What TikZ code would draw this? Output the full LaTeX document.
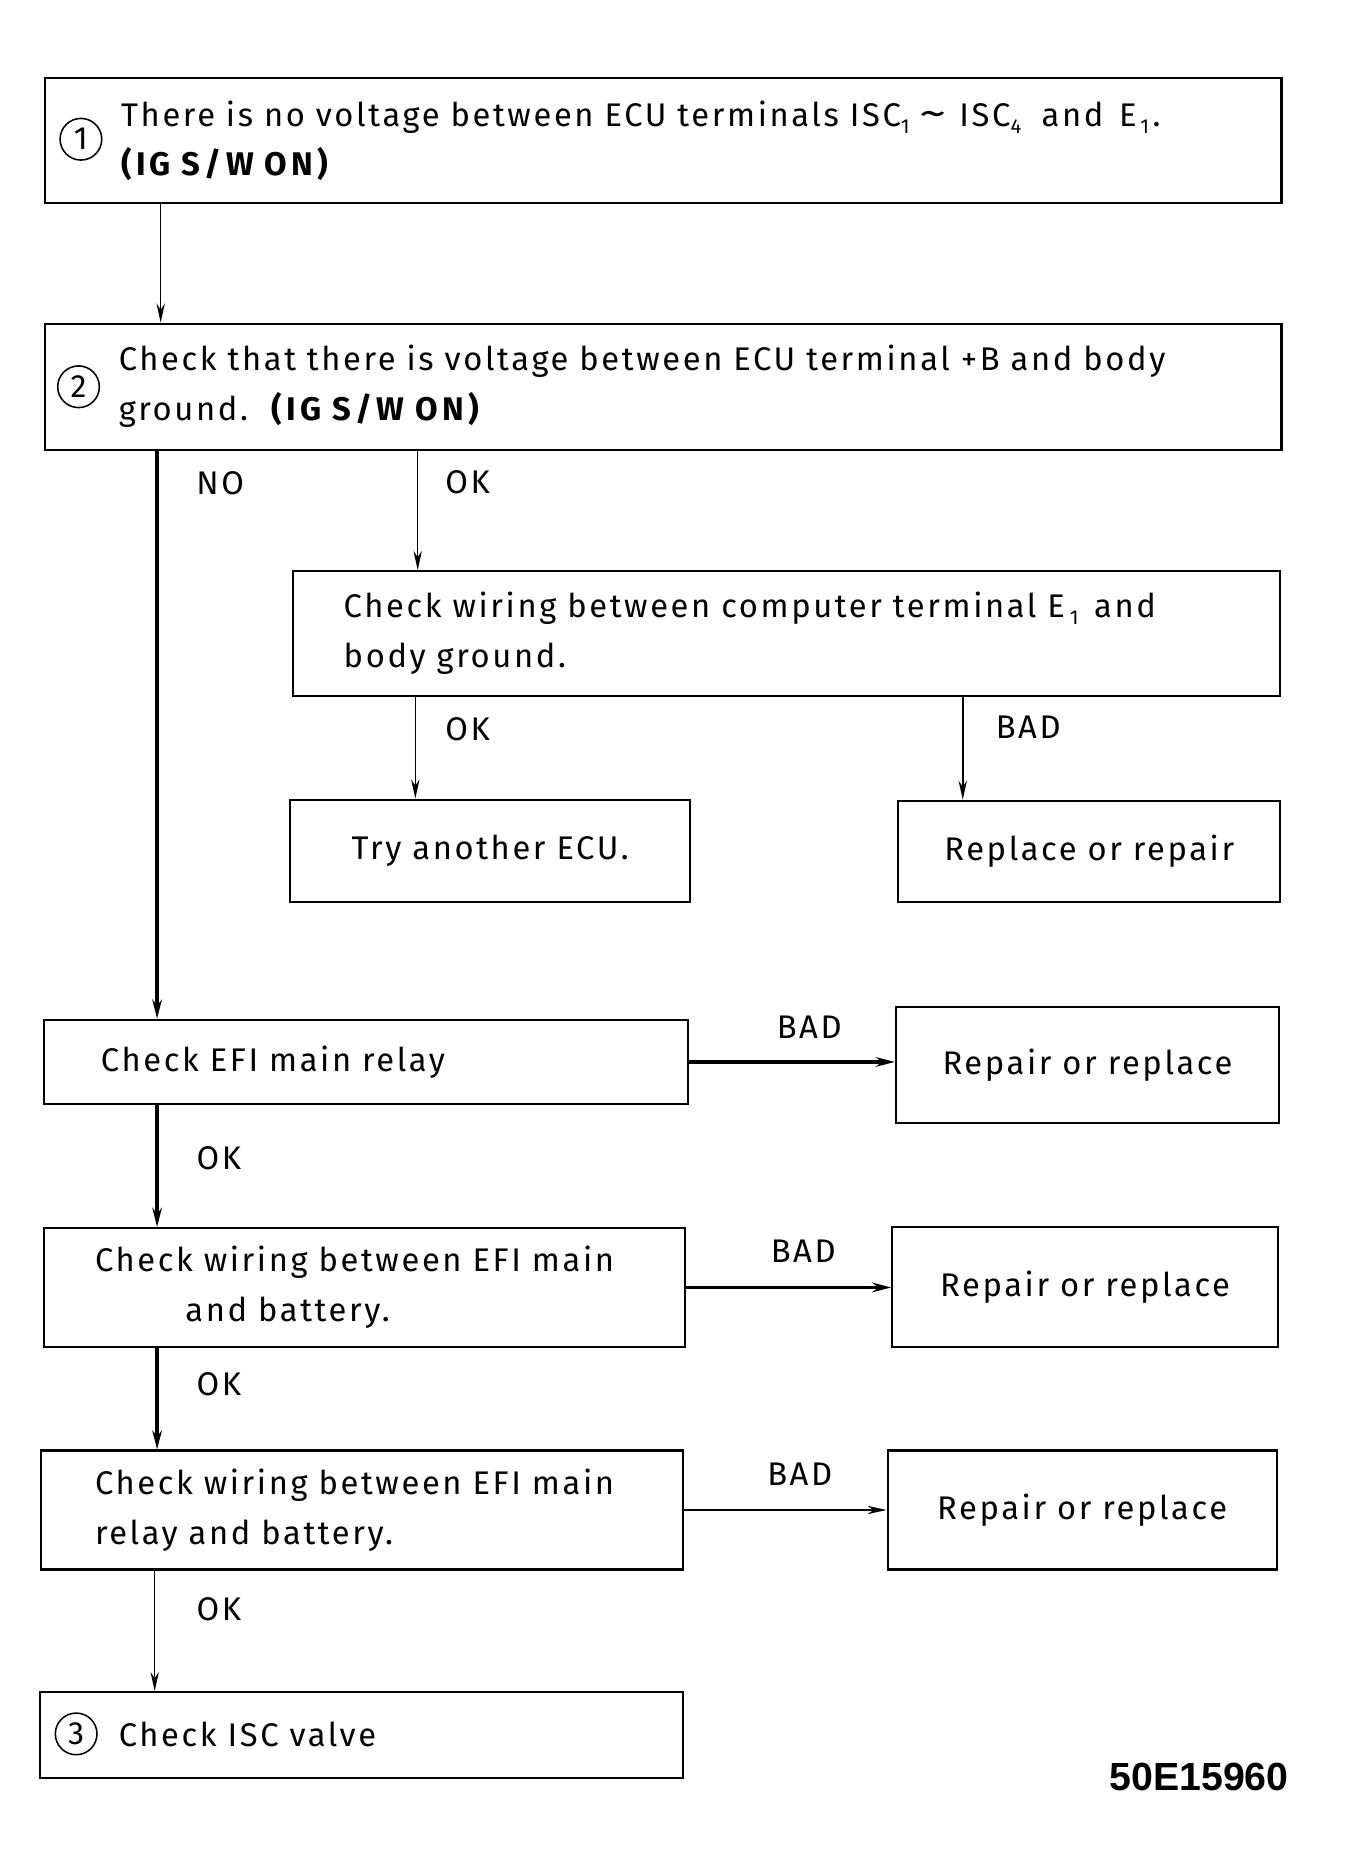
\documentclass[tikz,border=0pt]{standalone}
\usepackage{graphicx}
\usepackage{fontspec}
\setmainfont{Fira Sans}[LetterSpace=8]
\newfontfamily\codefont{Liberation Sans}
\usetikzlibrary{arrows.meta,calc}
\newcommand{\subx}[1]{\raisebox{-6pt}{\fontsize{17}{17}\selectfont #1}}
\newcommand{\wtilde}{\scalebox{1.7}[1.2]{\textasciitilde}}
\newcommand{\igon}{{\bfseries\addfontfeature{LetterSpace=13}(IG S/W ON)}}
\begin{document}
\begin{tikzpicture}[x=1pt,y=-1pt,
  every node/.style={font=\fontsize{27.5}{42}\selectfont},
  box/.style={draw, line width=1.7pt, rectangle, anchor=north west, inner ysep=0pt, align=left},
  cbox/.style={box, align=center},
  num/.style={draw, circle, line width=1.3pt, inner sep=0pt, minimum size=35pt, font=\fontsize{27}{27}\selectfont},
  arrthin/.style={line width=1.3pt, -{Stealth[length=16pt,width=7pt]}},
  arrthick/.style={line width=2.8pt, -{Stealth[length=16pt,width=8pt]}},
  lbl/.style={inner sep=0pt, anchor=center}
]
\useasboundingbox (0,0) rectangle (1129.4,1569.7);

% boxes
\node[box, minimum width=1039pt, minimum height=105pt, inner xsep=64pt, text width=911pt] (b1) at (37,65)
  {\mbox{There is no voltage between ECU terminals ISC\subx{1}\hspace{8pt}\wtilde\hspace{11pt}ISC\subx{4}\hspace{8pt} and \hspace{4pt}E\hspace{3pt}\subx{1}\hspace{3pt}.}\\ \mbox{\igon}};
\node[num] (n1) at (68,117) {1};

\node[box, minimum width=1039pt, minimum height=106pt, inner xsep=62pt, text width=915pt] (b2) at (37,271)
  {\mbox{Check that there is voltage between ECU terminal +B and body}\\ \mbox{ground.\hspace{20pt}\igon}};
\node[num] (n2) at (66,325) {2};

\node[box, minimum width=830pt, minimum height=105pt, inner xsep=43pt, text width=744pt] (b3) at (245,479)
  {\mbox{Check wiring between computer terminal E\hspace{4pt}\subx{1}\hspace{4pt} and}\\ \mbox{body ground.}};

\node[cbox, minimum width=336pt, minimum height=86pt, inner xsep=18pt, text width=300pt] (ecu) at (243,671)
  {Try another ECU.};
\node[cbox, minimum width=321pt, minimum height=85pt, inner xsep=18pt, text width=285pt] (rr) at (754,672)
  {Replace or repair};

\node[box, minimum width=541pt, minimum height=71pt, inner xsep=48pt, text width=445pt] (relay) at (36,856)
  {Check EFI main relay};
\node[cbox, minimum width=322pt, minimum height=98pt, inner xsep=18pt, text width=286pt] (rep1) at (752,845)
  {Repair or replace};

\node[box, minimum width=539pt, minimum height=100pt, inner xsep=43pt, text width=453pt] (w1) at (36,1031)
  {\mbox{Check wiring between EFI main}\\ \mbox{\hspace*{76pt}and battery.}};
\node[cbox, minimum width=324pt, minimum height=101pt, inner xsep=18pt, text width=288pt] (rep2) at (749,1030)
  {Repair or replace};

\node[box, minimum width=539pt, minimum height=100pt, inner xsep=45pt, text width=449pt] (w2) at (34,1218)
  {\mbox{Check wiring between EFI main}\\ \mbox{relay and battery.}};
\node[cbox, minimum width=327pt, minimum height=100pt, inner xsep=18pt, text width=291pt] (rep3) at (745,1218)
  {Repair or replace};

\node[box, minimum width=540pt, minimum height=72pt, inner xsep=66pt, text width=408pt] (isc) at (33,1421)
  {Check ISC valve};
\node[num] (n3) at (64,1457) {3};

\node[font=\codefont\bfseries\fontsize{33}{33}\selectfont, anchor=east, inner sep=0pt] (code) at (1083,1493) {50E15960};

% connector coordinates
\coordinate (s1) at ($(b1.south west)+(98,0)$);
\coordinate (sNO) at ($(b2.south west)+(95,0)$);
\coordinate (sOK) at ($(b2.south west)+(314,0)$);
\coordinate (s3a) at ($(b3.south west)+(104,0)$);
\coordinate (s3b) at ($(b3.south west)+(564,0)$);
\coordinate (s4) at ($(relay.south west)+(96,0)$);
\coordinate (s5) at ($(w1.south west)+(96,0)$);
\coordinate (s6) at ($(w2.south west)+(96,0)$);

\draw[arrthin] (s1) -- (s1 |- b2.north);
\draw[arrthick] (sNO) -- (sNO |- relay.north);
\draw[arrthin] (sOK) -- (sOK |- b3.north);
\draw[arrthin] (s3a) -- (s3a |- ecu.north);
\draw[arrthin] (s3b) -- (s3b |- rr.north);
\draw[arrthick] (relay.east) -- (relay.east -| rep1.west);
\draw[arrthick] (s4) -- (s4 |- w1.north);
\draw[arrthick] (w1.east) -- (w1.east -| rep2.west);
\draw[arrthick] (s5) -- (s5 |- w2.north);
\draw[arrthin] (w2.east) -- (w2.east -| rep3.west);
\draw[arrthin] (s6) -- (s6 |- isc.north);

% labels
\node[lbl] (lNO) at (185,406) {NO};
\node[lbl] (lOK1) at (393,405) {OK};
\node[lbl] (lOK2) at (393,613) {OK};
\node[lbl] (lBAD1) at (864,611) {BAD};
\node[lbl] (lBAD2) at (680,863) {BAD};
\node[lbl] (lOK3) at (184,973) {OK};
\node[lbl] (lBAD3) at (675,1051) {BAD};
\node[lbl] (lOK4) at (184,1163) {OK};
\node[lbl] (lBAD4) at (672,1239) {BAD};
\node[lbl] (lOK5) at (184,1352) {OK};
\end{tikzpicture}
\end{document}
